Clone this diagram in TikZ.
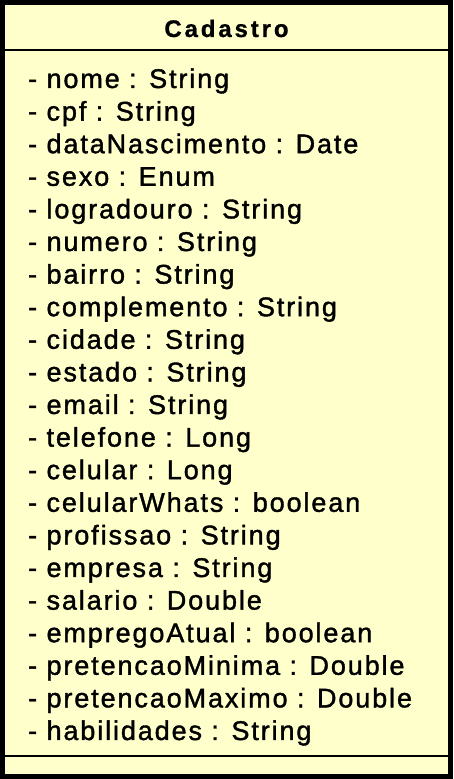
\documentclass[tikz,border=0pt]{standalone}
\usepackage{fontspec}
\setmainfont{Liberation Sans}
\newfontfamily\umlfont[LetterSpace=7,FakeBold=1.4]{Liberation Sans}
\newfontfamily\umltitlefont[LetterSpace=12,FakeBold=0.8]{Liberation Sans Bold}
\usetikzlibrary{positioning}
\definecolor{umlfill}{HTML}{FFFFCC}
\tikzset{
  classbox/.style={draw=black, fill=umlfill, line width=5pt,
                   minimum width=448pt, minimum height=774pt, inner sep=0pt},
  classname/.style={anchor=base, inner sep=0pt,
                    font=\umltitlefont\fontsize{24}{24}\selectfont},
  attr/.style={anchor=base west, inner sep=0pt,
               font=\umlfont\fontsize{27}{27}\selectfont},
  sepline/.style={line width=2pt},
}
\begin{document}
\begin{tikzpicture}[x=1pt,y=1pt]
  \useasboundingbox (0,0) rectangle (453,779);
  \node[classbox] (cad) at (226.5,389.5) {};
  \node[classname] (title) at (226.5,742) {Cadastro};

  % compartments
  \coordinate (hdr) at (0,729);
  \coordinate (ops) at (0,23);
  \draw[sepline] (cad.west |- hdr) -- (cad.east |- hdr);
  \draw[sepline] (cad.west |- ops) -- (cad.east |- ops);

  \foreach \attr [count=\i] in {nome : String, cpf : String,
      dataNascimento : Date, sexo : Enum, logradouro : String,
      numero : String, bairro : String, complemento : String,
      cidade : String, estado : String, email : String,
      telefone : Long, celular : Long, celularWhats : boolean,
      profissao : String, empresa : String, salario : Double,
      empregoAtual : boolean, pretencaoMinima : Double,
      pretencaoMaximo : Double, habilidades : String}
    \node[attr] (a\i) at (28,{691-32.6*(\i-1)}) {- \attr};
\end{tikzpicture}
\end{document}
